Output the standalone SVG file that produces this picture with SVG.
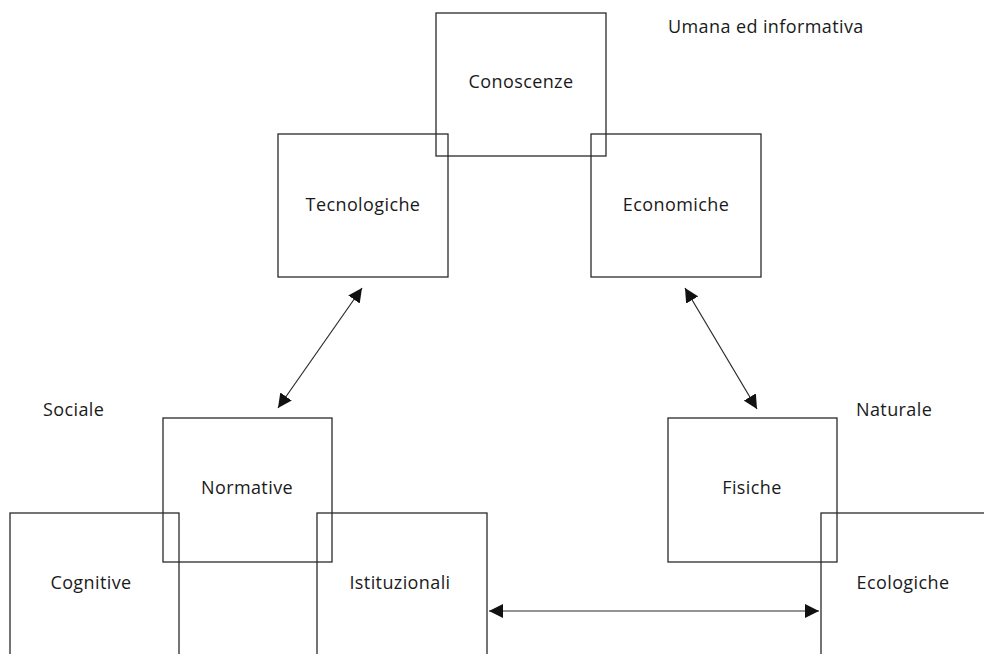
<svg xmlns="http://www.w3.org/2000/svg" width="984" height="654" viewBox="0 0 984 654">
<style>
rect{fill:none;stroke:#2a2a2a;stroke-width:1.3}
text{font-family:"Open Sans","Noto Sans","Liberation Sans",sans-serif;font-size:18px;letter-spacing:0.4px;fill:#1a1a1a}
.c{text-anchor:middle}
.conn line{stroke:#2a2a2a;stroke-width:1.2;marker-start:url(#ah);marker-end:url(#ah)}
</style>
<defs>
<marker id="ah" viewBox="0 0 10 10" refX="10" refY="5" markerWidth="14" markerHeight="14" markerUnits="userSpaceOnUse" orient="auto-start-reverse">
<path d="M0,0 L10,5 L0,10 z" fill="#111"/>
</marker>
</defs>
<rect width="984" height="654" style="fill:#fff;stroke:none"/>
<g id="conoscenze"><rect x="436" y="13" width="170" height="143"/><text class="c" x="521" y="88">Conoscenze</text></g>
<g id="tecnologiche"><rect x="278" y="134" width="170" height="143"/><text class="c" x="363" y="211">Tecnologiche</text></g>
<g id="economiche"><rect x="591" y="134" width="170" height="143"/><text class="c" x="676" y="211">Economiche</text></g>
<g id="normative"><rect x="163" y="418" width="169" height="144"/><text class="c" x="247" y="494">Normative</text></g>
<g id="fisiche"><rect x="668" y="418" width="169" height="144"/><text class="c" x="752" y="494">Fisiche</text></g>
<g id="cognitive"><rect x="10" y="513" width="169" height="160"/><text class="c" x="91" y="589">Cognitive</text></g>
<g id="istituzionali"><rect x="317" y="513" width="170" height="160"/><text class="c" x="400" y="589">Istituzionali</text></g>
<g id="ecologiche"><rect x="821" y="513" width="190" height="160"/><text class="c" x="903" y="589">Ecologiche</text></g>
<g id="labels">
<text x="668" y="33">Umana ed informativa</text>
<text x="43" y="416">Sociale</text>
<text x="856" y="416">Naturale</text>
</g>
<g class="conn" id="connectors">
<line x1="362" y1="288" x2="278" y2="408"/>
<line x1="685" y1="288" x2="757" y2="409"/>
<line x1="489" y1="611" x2="819" y2="611"/>
</g>
</svg>
